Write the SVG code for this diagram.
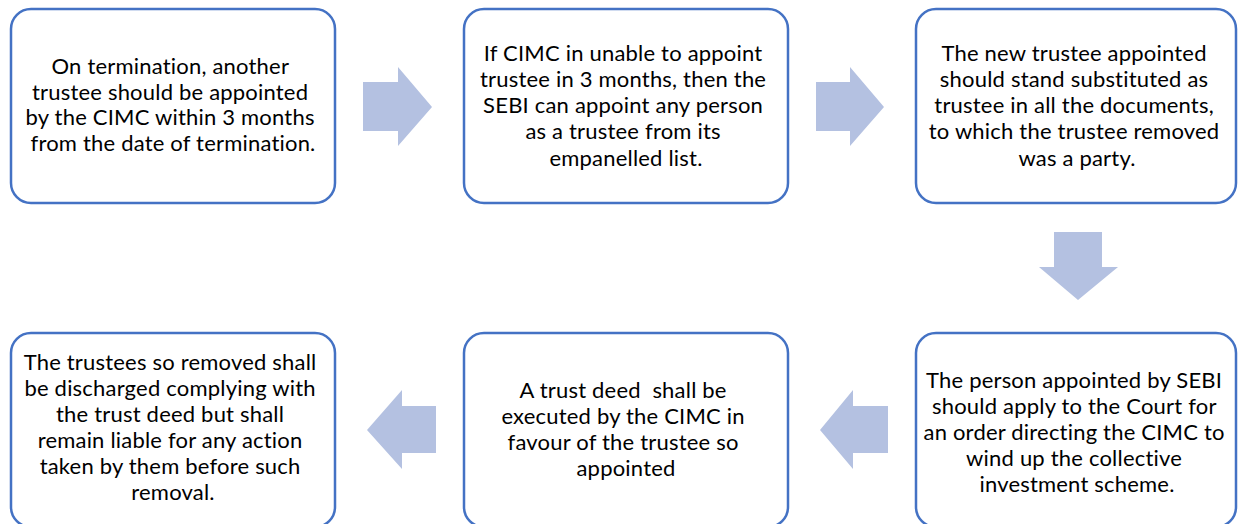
<svg xmlns="http://www.w3.org/2000/svg" width="1238" height="524" viewBox="0 0 1238 524">
  <style>
    .box { fill: #ffffff; stroke: #4472C4; stroke-width: 2.5; }
    .arrow { fill: #B4C1E1; }
    .label { font-family: Lato, "Liberation Sans", sans-serif; font-size: 22px; letter-spacing: 0.2px; fill: #000000; text-anchor: middle; }
  </style>
  <rect width="1238" height="524" fill="#ffffff"/>

  <!-- connectors: block arrows between steps -->
  <g id="connectors">
    <polygon class="arrow" points="363,82 398,82 398,67 432,107 398,146 398,131 363,131"/>
    <polygon class="arrow" points="816,82 850,82 850,67 884,107 850,146 850,131 816,131"/>
    <polygon class="arrow" points="1054,232 1102,232 1102,267 1118,267 1078,300 1039,267 1054,267"/>
    <polygon class="arrow" points="888,406 853,406 853,390 820,430 853,469 853,453 888,453"/>
    <polygon class="arrow" points="436,406 402,406 402,390 367,430 402,469 402,453 436,453"/>
  </g>

  <g id="step1">
    <rect class="box" x="11" y="9" width="324" height="194" rx="20"/>
    <text class="label">
      <tspan x="173" y="74">On termination, another</tspan>
      <tspan x="173" y="100">trustee should be appointed</tspan>
      <tspan x="173" y="125">by the CIMC within 3 months</tspan>
      <tspan x="173" y="151">from the date of termination.</tspan>
    </text>
  </g>

  <g id="step2">
    <rect class="box" x="464" y="9" width="324" height="194" rx="20"/>
    <text class="label">
      <tspan x="626" y="61">If CIMC in unable to appoint</tspan>
      <tspan x="626" y="87">trustee in 3 months, then the</tspan>
      <tspan x="626" y="113">SEBI can appoint any person</tspan>
      <tspan x="626" y="139">as a trustee from its</tspan>
      <tspan x="626" y="166">empanelled list.</tspan>
    </text>
  </g>

  <g id="step3">
    <rect class="box" x="916" y="9" width="320" height="194" rx="20"/>
    <text class="label">
      <tspan x="1077" y="61">The new trustee appointed</tspan>
      <tspan x="1077" y="87">should stand substituted as</tspan>
      <tspan x="1077" y="113">trustee in all the documents,</tspan>
      <tspan x="1077" y="139">to which the trustee removed</tspan>
      <tspan x="1077" y="166">was a party.</tspan>
    </text>
  </g>

  <g id="step4">
    <rect class="box" x="916" y="333" width="320" height="194" rx="20"/>
    <text class="label">
      <tspan x="1077" y="388">The person appointed by SEBI</tspan>
      <tspan x="1077" y="414">should apply to the Court for</tspan>
      <tspan x="1077" y="440">an order directing the CIMC to</tspan>
      <tspan x="1077" y="466">wind up the collective</tspan>
      <tspan x="1077" y="492">investment scheme.</tspan>
    </text>
  </g>

  <g id="step5">
    <rect class="box" x="464" y="333" width="324" height="194" rx="20"/>
    <text class="label">
      <tspan x="626" y="398" xml:space="preserve">A trust deed  shall be</tspan>
      <tspan x="626" y="424">executed by the CIMC in</tspan>
      <tspan x="626" y="450">favour of the trustee so</tspan>
      <tspan x="626" y="476">appointed</tspan>
    </text>
  </g>

  <g id="step6">
    <rect class="box" x="11" y="333" width="324" height="194" rx="20"/>
    <text class="label">
      <tspan x="173" y="370">The trustees so removed shall</tspan>
      <tspan x="173" y="396">be discharged complying with</tspan>
      <tspan x="173" y="422">the trust deed but shall</tspan>
      <tspan x="173" y="448">remain liable for any action</tspan>
      <tspan x="173" y="474">taken by them before such</tspan>
      <tspan x="173" y="500">removal.</tspan>
    </text>
  </g>
</svg>
